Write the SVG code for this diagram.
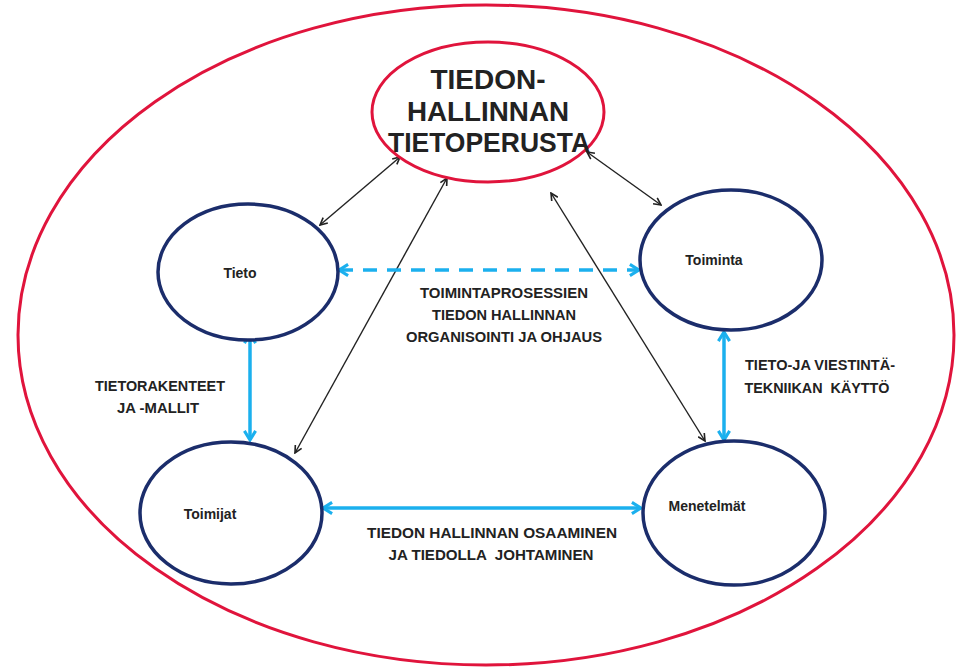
<svg xmlns="http://www.w3.org/2000/svg" width="959" height="670" viewBox="0 0 959 670">
<defs>
<style>
.red{fill:#fff;stroke:#e0143c;stroke-width:3}
.node{fill:#fff;stroke:#1b2d6b;stroke-width:3.5}
.blk{stroke:#222;stroke-width:1.4;fill:none;marker-start:url(#ab);marker-end:url(#ab)}
.blu{stroke:#1bb0ee;stroke-width:3.5;fill:none;marker-start:url(#au);marker-end:url(#au)}
.t{font-family:"Liberation Sans",Arial,sans-serif;font-weight:bold;fill:#222;text-anchor:middle;white-space:pre}
.lbl{font-size:14px}
.nl{font-size:14px}
.title{font-size:28px}
</style>
<marker id="ab" viewBox="0 0 10 10" refX="9" refY="5" markerWidth="9" markerHeight="9" markerUnits="userSpaceOnUse" orient="auto-start-reverse">
<path d="M1,1 L9,5 L1,9" fill="none" stroke="#222" stroke-width="1.8"/>
</marker>
<marker id="au" viewBox="0 0 10 10" refX="8.5" refY="5" markerWidth="14" markerHeight="14" markerUnits="userSpaceOnUse" orient="auto-start-reverse">
<path d="M2,1 L8.5,5 L2,9" fill="none" stroke="#1bb0ee" stroke-width="2.2"/>
</marker>
</defs>
<rect width="959" height="670" fill="#fff"/>
<g id="outer"><ellipse class="red" cx="486" cy="335" rx="468" ry="330"/></g>
<g id="connectors">
<line class="blk" x1="400" y1="157" x2="320" y2="225"/>
<line class="blk" x1="447" y1="178" x2="295" y2="453"/>
<line class="blk" x1="587" y1="152" x2="661" y2="205"/>
<line class="blk" x1="551" y1="193" x2="705" y2="441"/>
<line class="blu" x1="339" y1="270" x2="639" y2="270" stroke-dasharray="14,10"/>
<line class="blu" x1="250" y1="334" x2="250" y2="440"/>
<line class="blu" x1="724" y1="332" x2="724" y2="440"/>
<line class="blu" x1="323" y1="508" x2="641" y2="508"/>
</g>
<g id="top">
<ellipse class="red" cx="488" cy="112" rx="116" ry="70"/>
<text class="t title" x="488" y="89">TIEDON-</text>
<text class="t title" x="488" y="121" textLength="162" lengthAdjust="spacingAndGlyphs">HALLINNAN</text>
<text class="t title" x="489" y="152" textLength="202" lengthAdjust="spacingAndGlyphs">TIETOPERUSTA</text>
</g>
<g id="tieto"><ellipse class="node" cx="248" cy="272" rx="90" ry="68"/><text class="t nl" x="240" y="278">Tieto</text></g>
<g id="toiminta"><ellipse class="node" cx="731" cy="260" rx="91" ry="70"/><text class="t nl" x="714" y="265">Toiminta</text></g>
<g id="toimijat"><ellipse class="node" cx="231" cy="513" rx="91" ry="71"/><text class="t nl" x="210" y="519">Toimijat</text></g>
<g id="menetelmat"><ellipse class="node" cx="734" cy="513" rx="91" ry="72"/><text class="t nl" x="707" y="511">Menetelmät</text></g>
<g id="labels">
<text class="t lbl" x="504" y="298" textLength="168" lengthAdjust="spacingAndGlyphs">TOIMINTAPROSESSIEN</text>
<text class="t lbl" x="504" y="320" textLength="144" lengthAdjust="spacingAndGlyphs">TIEDON HALLINNAN</text>
<text class="t lbl" x="504" y="342" textLength="196" lengthAdjust="spacingAndGlyphs">ORGANISOINTI JA OHJAUS</text>
<text class="t lbl" x="160" y="391" textLength="130" lengthAdjust="spacingAndGlyphs">TIETORAKENTEET</text>
<text class="t lbl" x="158" y="413" textLength="82" lengthAdjust="spacingAndGlyphs">JA -MALLIT</text>
<text class="t lbl" x="820" y="370" textLength="150" lengthAdjust="spacingAndGlyphs">TIETO-JA VIESTINTÄ-</text>
<text class="t lbl" x="817" y="393" textLength="145" lengthAdjust="spacingAndGlyphs" xml:space="preserve">TEKNIIKAN  KÄYTTÖ</text>
<text class="t lbl" x="492" y="538" textLength="250" lengthAdjust="spacingAndGlyphs">TIEDON HALLINNAN OSAAMINEN</text>
<text class="t lbl" x="491" y="560" textLength="205" lengthAdjust="spacingAndGlyphs" xml:space="preserve">JA TIEDOLLA  JOHTAMINEN</text>
</g>
</svg>
